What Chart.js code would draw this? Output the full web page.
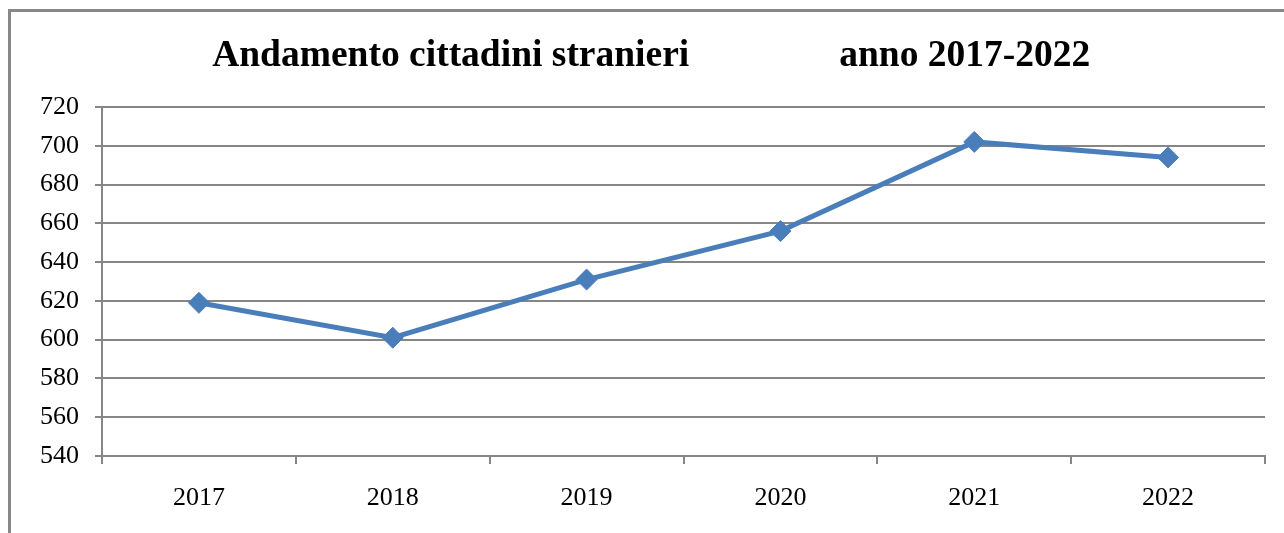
<!DOCTYPE html>
<html>
<head>
<meta charset="utf-8">
<script src="https://cdn.jsdelivr.net/npm/chart.js@4.4.0/dist/chart.umd.min.js"></script>
<style>
  html, body { margin: 0; padding: 0; background: #fff; }
  #wrap { position: relative; width: 1284px; height: 533px; overflow: hidden; }
  #frame { position: absolute; left: 8px; top: 9px; width: 1400px; height: 700px;
           border-top: 3px solid #888; border-left: 3px solid #888; box-sizing: border-box; }
  canvas { position: absolute; left: 0; top: 0; }
</style>
</head>
<body>
<div id="wrap">
  <div id="frame"></div>
  <canvas id="chart" width="1284" height="533"></canvas>
</div>
<script>
// --- Data ---
const years = ['2017', '2018', '2019', '2020', '2021', '2022'];
const residents = [619, 601, 631, 656, 702, 694];
const titleText = '    Andamento cittadini stranieri                anno 2017-2022';

const GRID = '#868686';
const LINE = '#4a7ebb';
const FONT = "'Liberation Serif', 'Times New Roman', serif";

new Chart(document.getElementById('chart'), {
    type: 'line',
    data: {
        labels: years,
        datasets: [{
            data: residents,
            borderColor: LINE,
            backgroundColor: LINE,
            borderWidth: 5,
            pointStyle: 'rectRot',
            pointRadius: 10.5,
            pointBorderWidth: 1,
            pointBackgroundColor: LINE,
            pointBorderColor: LINE,
            tension: 0
        }]
    },
    options: {
        responsive: false,
        animation: false,
        layout: { padding: { left: 0, right: 19, top: 0, bottom: 0 } },
        plugins: {
            legend: { display: false },
            tooltip: { enabled: false },
            title: {
                display: true,
                text: titleText,
                color: '#000',
                font: { family: FONT, size: 37.5, weight: 'bold', lineHeight: 1.2 },
                padding: { top: 34, bottom: 28 }
            }
        },
        scales: {
            x: {
                offset: true,
                grid: { offset: true, drawOnChartArea: false, color: GRID, lineWidth: 2, tickLength: 8 },
                border: { color: GRID, width: 2 },
                ticks: { color: '#000', padding: 19, font: { family: FONT, size: 26 } },
                afterFit: s => { s.height = 77; }
            },
            y: {
                min: 540,
                max: 720,
                ticks: { stepSize: 20, color: '#000', padding: 16, font: { family: FONT, size: 26 } },
                grid: { color: GRID, lineWidth: 2, tickLength: 7 },
                border: { color: GRID, width: 2 },
                afterFit: s => { s.width = 102; }
            }
        }
    }
});
</script>
</body>
</html>
